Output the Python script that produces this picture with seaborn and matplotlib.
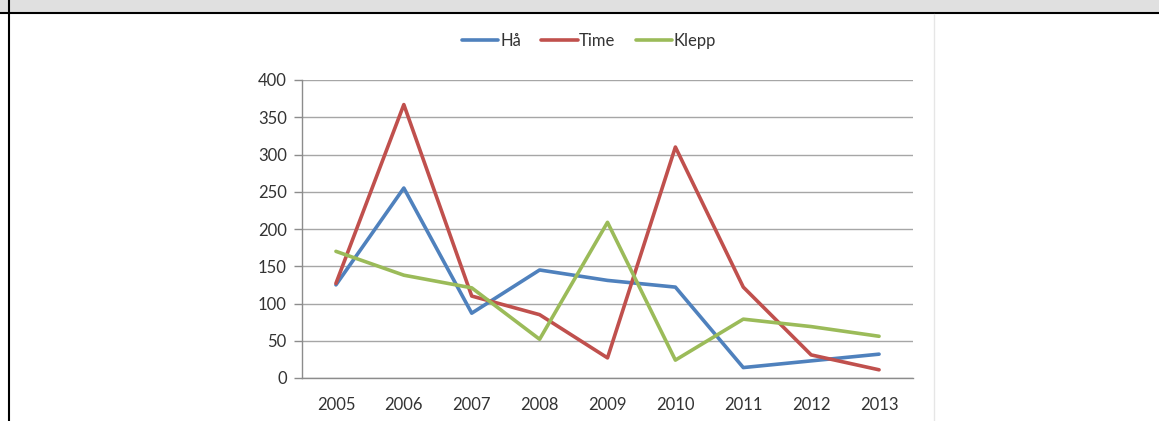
import numpy as np
import pandas as pd
import matplotlib
matplotlib.use("Agg")
import matplotlib.pyplot as plt
import seaborn as sns
from matplotlib.lines import Line2D
from matplotlib.patches import Rectangle

years = ["2005", "2006", "2007", "2008", "2009", "2010", "2011", "2012", "2013"]
ha = [125, 255, 87, 145, 131, 122, 14, 23, 32]
time_ = [127, 367, 110, 85, 27, 310, 122, 31, 11]
klepp = [170, 138, 121, 52, 209, 24, 79, 69, 56]
series = ["Hå", "Time", "Klepp"]
colors = ["#4F81BD", "#C0504D", "#9BBB59"]

df = pd.DataFrame({
    "year": years * 3,
    "value": ha + time_ + klepp,
    "kommune": [s for s in series for _ in years],
})

sns.set_style("white")
plt.rcParams["font.family"] = ["Lato", "DejaVu Sans"]

W, H = 1159, 421
fig = plt.figure(figsize=(W / 100, H / 100), dpi=100)
ax = fig.add_axes([302 / W, 1 - 378 / H, (913 - 302) / W, (378 - 80) / H])

sns.lineplot(data=df, x="year", y="value", hue="kommune", hue_order=series,
             palette=colors, linewidth=2.6, sort=False, ax=ax, legend=False)

ax.set_xlim(-0.5, len(years) - 0.5)
ax.set_ylim(0, 400)
ax.set_yticks(np.arange(0, 401, 50))
ax.set_xticks(range(len(years)))
ax.set_xticklabels(years)
ax.set_xticks(np.arange(-0.5, len(years), 1), minor=True)
ax.tick_params(axis="x", which="major", length=0, pad=14, labelsize=12, colors="#333333")
ax.tick_params(axis="x", which="minor", length=6, width=1, color="#8c8c8c", direction="out")
ax.tick_params(axis="y", length=6, width=1, color="#8c8c8c", pad=5, labelsize=12,
               labelcolor="#333333", left=True)
ax.grid(axis="y", color="#a6a6a6", linewidth=1)
ax.set_axisbelow(True)
for side in ["top", "right"]:
    ax.spines[side].set_visible(False)
for side in ["left", "bottom"]:
    ax.spines[side].set_color("#8c8c8c")
    ax.spines[side].set_linewidth(1)
ax.set_xlabel("")
ax.set_ylabel("")

handles = [Line2D([0], [0], color=c, linewidth=2.6) for c in colors]
fig.legend(handles, series, loc="center", bbox_to_anchor=(589 / W, 1 - 41 / H),
           ncol=3, frameon=False, handlelength=2.2, handletextpad=0.1,
           columnspacing=1.2, fontsize=12, labelcolor="#333333")

# page frame around the chart
fig.add_artist(Rectangle((0, 1 - 12 / H), 1, 12 / H, transform=fig.transFigure,
                         facecolor="#e0e0e0", edgecolor="none"))
fig.add_artist(Line2D([0, 1], [1 - 12.5 / H, 1 - 12.5 / H], transform=fig.transFigure,
                      color="black", linewidth=1.5))
fig.add_artist(Line2D([8.5 / W, 8.5 / W], [0, 1], transform=fig.transFigure,
                      color="black", linewidth=1.5))
fig.add_artist(Line2D([934 / W, 934 / W], [0, 1 - 14 / H], transform=fig.transFigure,
                      color="#e6e6e6", linewidth=1))

fig.savefig("out.png", dpi=100)
